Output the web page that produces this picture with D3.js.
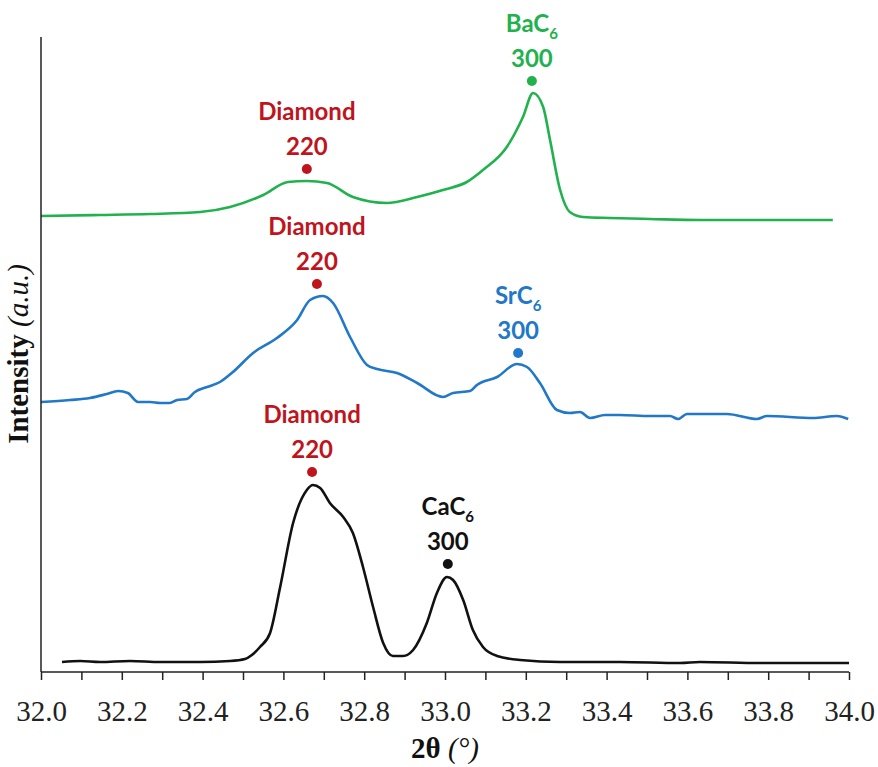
<!DOCTYPE html>
<html>
<head>
<meta charset="utf-8">
<script src="https://cdn.jsdelivr.net/npm/d3@7"></script>
<style>
	body { margin: 0; background: #fff; }
	.tick text { font-family: "Liberation Serif", "Times New Roman", serif; }
	.peak { font-family: Lato, "Open Sans", sans-serif; font-weight: bold; }
</style>
</head>
<body>
<div id="chart-area"></div>
<script>

// 2theta (deg) and intensity (a.u., curves stacked with offsets)
let baTheta = [32.000, 32.146, 32.270, 32.394, 32.468, 32.550, 32.611, 32.658, 32.708, 32.772,
	32.856, 32.931, 32.995, 33.054, 33.094, 33.153, 33.193, 33.218, 33.243, 33.260,
	33.285, 33.309, 33.342, 33.408, 33.507, 33.631, 33.780, 33.960];
let baIntensity = [456, 457, 458, 460, 465, 477, 490, 491, 489, 475,
	469, 475, 482, 490, 502, 525, 555, 579, 565, 532,
	482, 460, 455, 454, 453, 452, 452, 452];

let srTheta = [32.000, 32.072, 32.121, 32.163, 32.191, 32.215, 32.240, 32.270, 32.295, 32.319,
	32.337, 32.361, 32.381, 32.411, 32.443, 32.475, 32.525, 32.584, 32.634, 32.666,
	32.698, 32.723, 32.765, 32.807, 32.832, 32.881, 32.931, 32.995, 33.020, 33.062,
	33.079, 33.129, 33.178, 33.203, 33.235, 33.277, 33.309, 33.334, 33.359, 33.396,
	33.433, 33.507, 33.557, 33.577, 33.599, 33.698, 33.772, 33.797, 33.911, 33.970, 33.998];
let srIntensity = [270, 272, 274, 278, 281, 279, 270, 270, 269, 269,
	272, 273, 280, 285, 290, 300, 319, 334, 352, 372,
	376, 369, 335, 307, 303, 299, 289, 275, 279, 281,
	287, 295, 308, 305, 289, 262, 259, 260, 254, 257,
	257, 256, 256, 253, 258, 258, 253, 256, 254, 256, 253];

let caTheta = [32.052, 32.097, 32.146, 32.220, 32.295, 32.394, 32.468, 32.505, 32.522, 32.542,
	32.567, 32.592, 32.624, 32.658, 32.673, 32.691, 32.715, 32.748, 32.772, 32.797,
	32.822, 32.847, 32.871, 32.896, 32.921, 32.955, 32.980, 33.005, 33.020, 33.045,
	33.069, 33.094, 33.129, 33.186, 33.285, 33.433, 33.582, 33.631, 33.780, 34.000];
let caIntensity = [10, 11, 10, 11, 10, 10, 11, 13, 17, 25,
	39, 85, 149, 182, 187, 184, 169, 155, 139, 105,
	65, 29, 16, 16, 22, 49, 79, 95, 92, 72,
	42, 25, 16, 12, 10, 10, 9, 10, 9, 9];

let seriesNames = ["BaC6", "SrC6", "CaC6"];
let seriesColors = ["#21b24e", "#2178c8", "#111111"];

// peak markers
let peakPhase = ["Diamond", "BaC", "Diamond", "SrC", "Diamond", "CaC"];
let peakSub = ["", "6", "", "6", "", "6"];
let peakIndex = ["220", "300", "220", "300", "220", "300"];
let peakTheta = [32.658, 33.215, 32.683, 33.181, 32.671, 33.007];
let peakIntensity = [503, 591, 388, 319, 200, 108];
let peakColors = ["#c0141c", "#21b24e", "#c0141c", "#2178c8", "#c0141c", "#111111"];

let xTicks = d3.range(0, 21).map(i => 32 + i * 0.1);

// SVG Size
let width = 878,
	height = 767;

let svg = d3.select("#chart-area")
	.append("svg")
	.attr("width", width)
	.attr("height", height);

let x = d3.scaleLinear()
	.domain([32, 34])
	.range([41, 849]);
let y = d3.scaleLinear()
	.domain([0, 635])
	.range([672, 37]);

let line = d3.line()
	.x(d => x(d[0]))
	.y(d => y(d[1]))
	.curve(d3.curveMonotoneX);

let series = [
	d3.zip(baTheta, baIntensity),
	d3.zip(srTheta, srIntensity),
	d3.zip(caTheta, caIntensity)
];

svg.selectAll("path.pattern")
	.data(series)
	.enter()
	.append("path")
	.attr("class", "pattern")
	.attr("d", line)
	.attr("fill", "none")
	.attr("stroke", (d, i) => seriesColors[i])
	.attr("stroke-width", 2.6)
	.attr("stroke-linejoin", "round");

// peak dots + labels
let peaks = peakTheta.map((t, i) => ({
	t: t, v: peakIntensity[i], phase: peakPhase[i], sub: peakSub[i],
	idx: peakIndex[i], color: peakColors[i]
}));

let pk = svg.selectAll("g.peak")
	.data(peaks)
	.enter()
	.append("g")
	.attr("class", "peak")
	.attr("transform", d => "translate(" + x(d.t) + "," + y(d.v) + ")")
	.attr("fill", d => d.color);

pk.append("circle")
	.attr("r", 5);

pk.append("text")
	.attr("text-anchor", "middle")
	.attr("y", -14)
	.attr("font-size", 24)
	.text(d => d.idx);

let nameText = pk.append("text")
	.attr("text-anchor", "middle")
	.attr("y", -49)
	.attr("font-size", 24);
nameText.append("tspan").text(d => d.phase);
nameText.filter(d => d.sub).append("tspan")
	.attr("font-size", 15)
	.attr("dy", 7)
	.text(d => d.sub);

// axes
let xAxis = d3.axisBottom(x)
	.tickValues(xTicks)
	.tickSize(8)
	.tickPadding(20)
	.tickFormat((d, i) => i % 2 === 0 ? d3.format(".1f")(d) : "");

let gx = svg.append("g")
	.attr("class", "axis x-axis")
	.attr("transform", "translate(0," + y(0) + ")")
	.call(xAxis);
gx.selectAll("text").attr("font-size", 29).attr("fill", "#222");
gx.selectAll("line").attr("stroke", "#222").attr("stroke-width", 1.5);
gx.select(".domain").attr("stroke", "#222").attr("stroke-width", 1.5)
	.attr("d", "M41,0H849");

svg.append("line")
	.attr("x1", x(32)).attr("x2", x(32))
	.attr("y1", y(0)).attr("y2", y(635))
	.attr("stroke", "#222")
	.attr("stroke-width", 1.5);

let xt = svg.append("text")
	.attr("x", (x(32) + x(34)) / 2)
	.attr("y", 758)
	.attr("text-anchor", "middle")
	.attr("font-family", "'Liberation Serif', serif")
	.attr("font-size", 29)
	.attr("fill", "#111");
xt.append("tspan").attr("font-weight", "bold").text("2θ ");
xt.append("tspan").attr("font-style", "italic").text("(°)");

let yt = svg.append("text")
	.attr("transform", "translate(28," + 354 + ") rotate(-90)")
	.attr("text-anchor", "middle")
	.attr("font-family", "'Liberation Serif', serif")
	.attr("font-size", 29)
	.attr("fill", "#111");
yt.append("tspan").attr("font-weight", "bold").text("Intensity ");
yt.append("tspan").attr("font-style", "italic").text("(a.u.)");

</script>
</body>
</html>
